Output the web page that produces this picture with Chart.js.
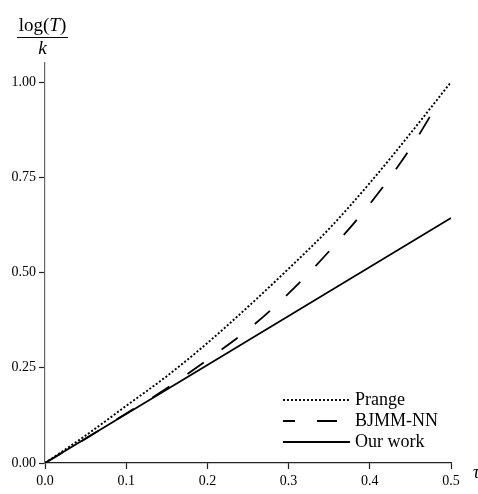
<!DOCTYPE html>
<html>
<head>
<meta charset="utf-8">
<script src="https://cdn.jsdelivr.net/npm/chart.js@4"></script>
<style>
  html, body { margin: 0; padding: 0; background: #fff; }
  #wrap { width: 478px; height: 494px; position: relative; }
</style>
</head>
<body>
<div id="wrap"><canvas id="chart"></canvas></div>
<script>
// values
var tauPrange = [0, 0.05, 0.1, 0.15, 0.2, 0.25, 0.3, 0.35, 0.4, 0.45, 0.5];
var prange = [0, 0.072, 0.15, 0.228, 0.315, 0.41, 0.51, 0.615, 0.735, 0.865, 1.0];

var tauBjmm = [0, 0.05, 0.1, 0.15, 0.2, 0.25, 0.3, 0.35, 0.4, 0.45, 0.485];
var bjmm = [0, 0.064, 0.13, 0.196, 0.271, 0.35, 0.445, 0.556, 0.68, 0.826, 0.948];

var tauOurs = [0, 0.5];
var ours = [0, 0.643];

var xTicks = [0, 0.1, 0.2, 0.3, 0.4, 0.5];
var yTicks = [0, 0.25, 0.5, 0.75, 1.0];

var serif = "'Liberation Serif', 'DejaVu Serif', serif";

function pts(xs, ys) {
    return xs.map(function(x, i) { return { x: x, y: ys[i] }; });
}

// legend drawn inside the plot, lower right
var legendPlugin = {
    id: 'innerLegend',
    afterDraw: function(chart) {
        var ctx = chart.ctx;
        var rows = [400, 421, 442];
        ctx.save();
        chart.data.datasets.forEach(function(ds, i) {
            var y = rows[i];
            ctx.beginPath();
            ctx.setLineDash(ds.borderDash || []);
            ctx.lineDashOffset = ds.legendDashOffset || 0;
            ctx.lineWidth = ds.borderWidth;
            ctx.strokeStyle = ds.borderColor;
            ctx.moveTo(283, y);
            ctx.lineTo(350, y);
            ctx.stroke();
            ctx.setLineDash([]);
            ctx.fillStyle = '#000';
            ctx.font = '18px ' + serif;
            ctx.textBaseline = 'middle';
            ctx.textAlign = 'left';
            ctx.fillText(ds.label, 355, y);
        });

        // y axis title: log(T) / k
        ctx.fillStyle = '#000';
        ctx.textAlign = 'left';
        ctx.textBaseline = 'alphabetic';
        ctx.font = '19px ' + serif;
        var a = 'log(', t = 'T', b = ')';
        var wa = ctx.measureText(a).width, wb = ctx.measureText(b).width;
        ctx.font = 'italic 19px ' + serif;
        var wt = ctx.measureText(t).width;
        var total = wa + wt + wb;
        var x0 = 42.5 - total / 2;
        ctx.font = '19px ' + serif;
        ctx.fillText(a, x0, 31);
        ctx.font = 'italic 19px ' + serif;
        ctx.fillText(t, x0 + wa, 31);
        ctx.font = '19px ' + serif;
        ctx.fillText(b, x0 + wa + wt, 31);
        ctx.beginPath();
        ctx.lineWidth = 1;
        ctx.strokeStyle = '#000';
        ctx.moveTo(17, 37.5);
        ctx.lineTo(68, 37.5);
        ctx.stroke();
        ctx.font = 'italic 19px ' + serif;
        ctx.textAlign = 'center';
        ctx.fillText('k', 42.5, 54);

        // x axis title, mostly off the right edge
        ctx.textAlign = 'left';
        ctx.font = 'italic 18px ' + serif;
        ctx.fillText('τ', 473, 478);
        ctx.restore();
    }
};

var ctx = document.getElementById('chart');
new Chart(ctx, {
    type: 'line',
    data: {
        datasets: [{
            label: 'Prange',
            data: pts(tauPrange, prange),
            borderColor: '#000',
            borderWidth: 1.9,
            borderDash: [2, 2],
            pointRadius: 0,
            cubicInterpolationMode: 'monotone',
            fill: false
        }, {
            label: 'BJMM-NN',
            data: pts(tauBjmm, bjmm),
            borderColor: '#000',
            borderWidth: 1.8,
            borderDash: [20, 22],
            legendDashOffset: 8,
            pointRadius: 0,
            cubicInterpolationMode: 'monotone',
            fill: false
        }, {
            label: 'Our work',
            data: pts(tauOurs, ours),
            borderColor: '#000',
            borderWidth: 1.8,
            pointRadius: 0,
            fill: false
        }]
    },
    options: {
        responsive: true,
        maintainAspectRatio: false,
        animation: false,
        layout: {
            padding: { top: 63, right: 27, left: 0, bottom: 0 }
        },
        plugins: {
            legend: { display: false },
            tooltip: { enabled: false }
        },
        scales: {
            x: {
                type: 'linear',
                min: 0,
                max: 0.5,
                afterFit: function(scale) { scale.height = 31; },
                afterBuildTicks: function(scale) {
                    scale.ticks = xTicks.map(function(v) { return { value: v }; });
                },
                border: { display: true, color: '#222', width: 1.2 },
                grid: {
                    display: true,
                    drawOnChartArea: false,
                    drawTicks: true,
                    tickLength: 6,
                    tickColor: '#222',
                    tickWidth: 1.2
                },
                ticks: {
                    padding: 4,
                    maxRotation: 0,
                    color: '#000',
                    font: { family: serif, size: 14 },
                    callback: function(v) { return Number(v).toFixed(1); }
                }
            },
            y: {
                type: 'linear',
                min: 0,
                max: 1.05,
                afterFit: function(scale) { scale.width = 45; },
                afterBuildTicks: function(scale) {
                    scale.ticks = yTicks.map(function(v) { return { value: v }; });
                },
                border: { display: true, color: '#666', width: 1.2 },
                grid: {
                    display: true,
                    drawOnChartArea: false,
                    drawTicks: true,
                    tickLength: 6,
                    tickColor: '#222',
                    tickWidth: 1.2
                },
                ticks: {
                    padding: 3,
                    color: '#000',
                    font: { family: serif, size: 14 },
                    callback: function(v) { return Number(v).toFixed(2); }
                }
            }
        }
    },
    plugins: [legendPlugin]
});
</script>
</body>
</html>
